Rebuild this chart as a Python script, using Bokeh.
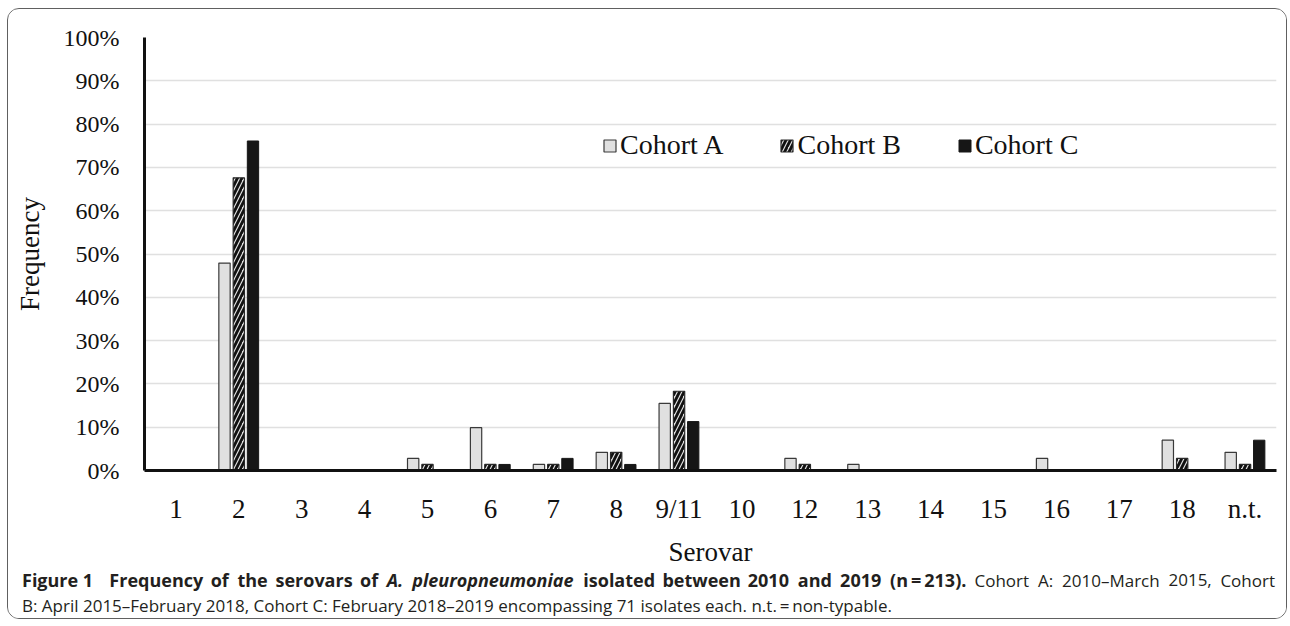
from bokeh.plotting import figure
from bokeh.layouts import column
from bokeh.models import (FactorRange, FixedTicker, Legend, LegendItem,
                          ColumnDataSource, Range1d)
from bokeh.transform import dodge
from bokeh.core.properties import value
from bokeh.embed import file_html
from bokeh.resources import INLINE

# ---------------- data ----------------
serovars = ["1", "2", "3", "4", "5", "6", "7", "8", "9/11", "10",
            "12", "13", "14", "15", "16", "17", "18", "n.t."]
cohort_a = [0, 47.9, 0, 0, 2.8, 9.9, 1.4, 4.2, 15.5, 0, 2.8, 1.4, 0, 0, 2.8, 0, 7.0, 4.2]
cohort_b = [0, 67.6, 0, 0, 1.4, 1.4, 1.4, 4.2, 18.3, 0, 1.4, 0, 0, 0, 0, 0, 2.8, 1.4]
cohort_c = [0, 76.1, 0, 0, 0, 1.4, 2.8, 1.4, 11.3, 0, 0, 0, 0, 0, 0, 0, 0, 7.0]
series_names = ["Cohort A", "Cohort B", "Cohort C"]
y_ticks = [0, 10, 20, 30, 40, 50, 60, 70, 80, 90, 100]
x_title = "Serovar"
y_title = "Frequency"
# caption line 1 (justified in the original): (words, style)
caption_1 = [("Figure 1", "bold"), ("Frequency of the serovars of", "bold"),
             ("A. pleuropneumoniae", "bold italic"),
             ("isolated between 2010 and 2019 (n\u2009=\u2009213).", "bold"),
             ("Cohort A: 2010\u2013March 2015, Cohort", "normal")]
caption_2 = "B: April 2015\u2013February 2018, Cohort C: February 2018\u20132019 encompassing 71 isolates each. n.t.\u2009=\u2009non-typable."

src = ColumnDataSource(dict(serovar=serovars, a=cohort_a, b=cohort_b, c=cohort_c))

# ---------------- geometry (page px) ----------------
OX, OY = 8.5, 9.5            # content origin inside the rounded border
W = 1278                     # content width
HP, HC = 560, 49             # chart / caption heights
FL, FR, FT, FB = 145, 1277, 37, 477   # plot frame edges on the page

SERIF = "Liberation Serif"
CAP_FONT = "Open Sans"
SIZE_BOLD, SIZE_REG = 18, 17
INK = "#111111"

p = figure(width=W, height=HP, x_range=FactorRange(*serovars), y_range=(0, 100),
           output_backend="svg", toolbar_location=None,
           min_border_left=int(round(FL - OX)), min_border_right=int(round(OX + W - FR)),
           min_border_top=int(round(FT - OY)),
           min_border_bottom=int(round(OY + HP - FB)))
p.frame_align = False
p.outline_line_color = None
p.background_fill_color = "white"
p.border_fill_color = "white"

ra = p.vbar(x=dodge("serovar", -0.228, range=p.x_range), top="a", width=0.18,
            source=src, fill_color="#e0e0e0", line_color="#3a3a3a", line_width=1.2)
rb = p.vbar(x=dodge("serovar", 0.0, range=p.x_range), top="b", width=0.18,
            source=src, fill_color="#e0e0e0", line_color="#2a2a2a", line_width=1.2,
            hatch_pattern="/", hatch_color="#111111", hatch_weight=2.8, hatch_scale=9)
rc = p.vbar(x=dodge("serovar", 0.225, range=p.x_range), top="c", width=0.18,
            source=src, fill_color="#161616", line_color="#161616", line_width=1)

legend = Legend(items=[LegendItem(label=series_names[0], renderers=[ra]),
                       LegendItem(label=series_names[1], renderers=[rb]),
                       LegendItem(label=series_names[2], renderers=[rc])],
                orientation="horizontal", location=(458, 309),
                glyph_width=15, glyph_height=15, label_standoff=3, spacing=56,
                padding=0, margin=0, border_line_color=None,
                background_fill_alpha=0,
                label_text_font=SERIF, label_text_font_size="28px",
                label_text_color=INK)
p.add_layout(legend)

# axes
p.xaxis.axis_line_width = 3
p.xaxis.axis_line_color = "#111111"
p.xaxis.major_tick_line_color = None
p.xaxis.minor_tick_line_color = None
p.xaxis.major_label_text_font = SERIF
p.xaxis.major_label_text_font_size = "27px"
p.xaxis.major_label_text_color = INK
p.xaxis.major_label_standoff = 17
p.xaxis.axis_label = x_title
p.xaxis.axis_label_text_font = SERIF
p.xaxis.axis_label_text_font_size = "27px"
p.xaxis.axis_label_text_font_style = "normal"
p.xaxis.axis_label_text_color = INK
p.xaxis.axis_label_standoff = 10

p.yaxis.ticker = FixedTicker(ticks=y_ticks)
p.yaxis.major_label_overrides = {t: f"{t}%" for t in y_ticks}
p.yaxis.axis_line_width = 3
p.yaxis.axis_line_color = "#111111"
p.yaxis.major_tick_line_color = None
p.yaxis.minor_tick_line_color = None
p.yaxis.major_label_text_font = SERIF
p.yaxis.major_label_text_font_size = "24px"
p.yaxis.major_label_text_color = INK
p.yaxis.major_label_standoff = 19
p.yaxis.axis_label = y_title
p.yaxis.axis_label_text_font = SERIF
p.yaxis.axis_label_text_font_size = "27px"
p.yaxis.axis_label_text_font_style = "normal"
p.yaxis.axis_label_text_color = INK
p.yaxis.axis_label_standoff = 16

p.xgrid.grid_line_color = None
p.ygrid.ticker = FixedTicker(ticks=y_ticks)
p.ygrid.grid_line_color = "#e0e0e0"
p.ygrid.grid_line_width = 1.6

# ---------------- caption panel (pixel coordinates) ----------------
cap = figure(width=W, height=HC, x_range=Range1d(0, W), y_range=Range1d(HC, 0),
             output_backend="svg", toolbar_location=None,
             x_axis_type=None, y_axis_type=None, min_border=0)
cap.frame_align = False
cap.outline_line_color = None
cap.xgrid.grid_line_color = None
cap.ygrid.grid_line_color = None
cap.border_fill_color = "white"

# approximate Open Sans advance widths (em) used to justify the first line
REG = {' ': .26, 'a': .556, 'b': .613, 'c': .476, 'd': .613, 'e': .561, 'f': .339,
       'g': .548, 'h': .614, 'i': .253, 'j': .253, 'k': .525, 'l': .253, 'm': .93,
       'n': .614, 'o': .604, 'p': .613, 'q': .613, 'r': .408, 's': .477, 't': .353,
       'u': .614, 'v': .501, 'w': .778, 'x': .524, 'y': .502, 'z': .477,
       'A': .633, 'B': .648, 'C': .631, 'F': .539, 'M': .903, '.': .266, ',': .245,
       ':': .266, '\u2013': .5, '(': .296, ')': .296, '=': .572, '\u2009': .17, '-': .322}
BLD = {' ': .26, 'a': .59, 'b': .63, 'c': .507, 'd': .63, 'e': .585, 'f': .379,
       'g': .557, 'h': .641, 'i': .295, 'l': .295, 'm': .961, 'n': .641, 'o': .617,
       'p': .63, 'q': .63, 'r': .439, 's': .495, 't': .398, 'u': .641, 'v': .545,
       'w': .83, 'y': .545, 'A': .683, 'F': .569, '.': .28, '(': .325, ')': .325,
       '=': .572, '\u2009': .17}


def font_size(style):
    return SIZE_REG if style == "normal" else SIZE_BOLD


def text_width(s, style):
    table = REG if style == "normal" else BLD
    scale = 0.96 if style == "bold italic" else 1.0
    return sum(table.get(ch, 0.572) for ch in s) * font_size(style) * scale


tokens = []
for i, (chunk, st) in enumerate(caption_1):
    words = [chunk] if i == 0 else chunk.split(" ")
    for wd in words:
        tokens.append((wd, st))

LINE_L, LINE_R = 22, 1275
extra_after_first = 8
natural = sum(text_width(t, s) for t, s in tokens)
gap = (LINE_R - LINE_L - natural - extra_after_first) / (len(tokens) - 1)
xs, ys, txt, sty, aln, fsz = [], [], [], [], [], []
cx = LINE_L
for k, (t, s) in enumerate(tokens):
    last = k == len(tokens) - 1
    xs.append((LINE_R if last else cx) - OX)
    ys.append(580 - OY - HP)
    txt.append(t)
    sty.append(s)
    aln.append("right" if last else "left")
    fsz.append(f"{font_size(s)}px")
    cx += text_width(t, s) + gap + (extra_after_first if k == 0 else 0)

xs.append(22 - OX)
ys.append(605 - OY - HP)
txt.append(caption_2)
sty.append("normal")
aln.append("left")
fsz.append(f"{SIZE_REG}px")

cap_src = ColumnDataSource(dict(x=xs, y=ys, text=txt, style=sty, align=aln, size=fsz))
cap.text(x="x", y="y", text="text", source=cap_src, text_font=value(CAP_FONT),
         text_font_style="style", text_font_size="size",
         text_baseline="middle", text_align="align", text_color="#231f20")

layout = column(p, cap, spacing=0,
                styles={"border": "1.5px solid #606060", "border-radius": "12px",
                        "margin-left": "7px", "margin-top": "8px",
                        "overflow": "hidden"})

open("out.html", "w").write(file_html(layout, INLINE))
